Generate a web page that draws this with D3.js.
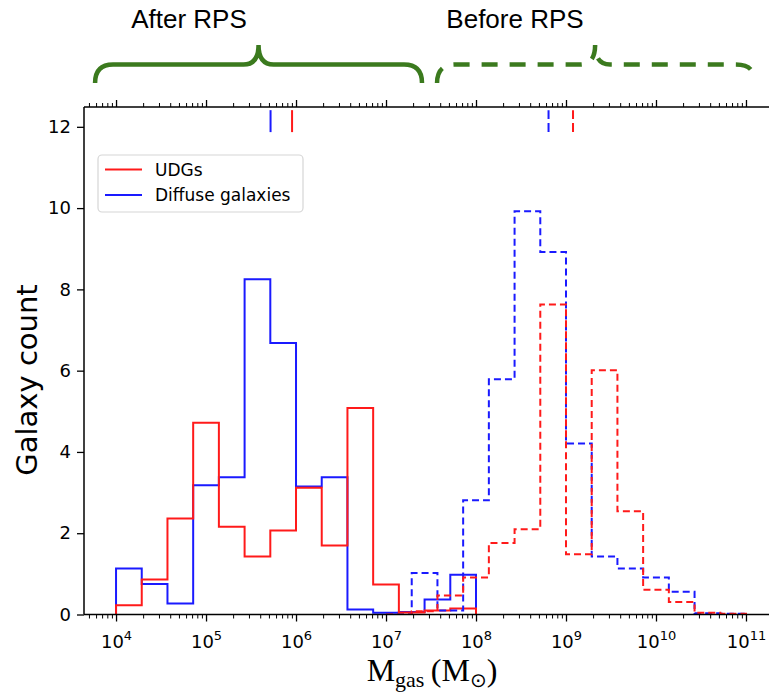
<!DOCTYPE html>
<html>
<head>
<meta charset="utf-8">
<script src="https://cdn.jsdelivr.net/npm/d3@7"></script>
<style>
  html, body { margin: 0; padding: 0; background: #fff; }
  svg { display: block; }
</style>
</head>
<body>
<svg id="chart" width="769" height="693"></svg>
<script>
// Histogram bins in log10(M_gas): 14 equal bins over 10^4–10^8 (after RPS)
// and over 10^7–10^11 (before RPS).
const afterBinStart = 4, afterBinEnd = 8;
const beforeBinStart = 7, beforeBinEnd = 11;
const binCount = 14;

// Galaxy counts per bin
const udgAfter      = [0.23, 0.86, 2.36, 4.72, 2.16, 1.43, 2.07, 3.12, 1.70, 5.08, 0.74, 0.05, 0.10, 0.15];
const diffuseAfter  = [1.13, 0.75, 0.27, 3.18, 3.38, 8.25, 6.68, 3.15, 3.38, 0.12, 0.04, 0.06, 0.37, 0.98];
const udgBefore     = [0.00, 0.08, 0.47, 0.91, 1.76, 2.10, 7.63, 1.48, 6.01, 2.54, 0.61, 0.31, 0.04, 0.02];
const diffuseBefore = [0.00, 1.02, 0.10, 2.81, 5.79, 9.92, 8.92, 4.21, 1.43, 1.13, 0.91, 0.56, 0.03, 0.02];

// Median log10(M_gas) of each population
const medianAfter  = { udg: 5.956, diffuse: 5.717 };
const medianBefore = { udg: 9.078, diffuse: 8.806 };

// Axis ticks
const xMajorExps = [4, 5, 6, 7, 8, 9, 10, 11];
const yTicks = [0, 2, 4, 6, 8, 10, 12];

// Legend entries
const legendLabels = ["UDGs", "Diffuse galaxies"];

// Bracket annotations (spans in log10 M_gas)
const brackets = [
  { label: "After RPS",  from: 3.767, to: 7.400, dashed: false },
  { label: "Before RPS", from: 7.567, to: 11.08, dashed: true }
];

const RED = "#ff1a1a", BLUE = "#1a1aff", GREEN = "#3b7a1e";

const svg = d3.select("#chart");
const axLeft = 84, axRight = 780, axTop = 107, axBottom = 614.5;

const x = d3.scaleLog().domain([Math.pow(10, 3.644), Math.pow(10, 11.378)]).range([axLeft, axRight]);
const y = d3.scaleLinear().domain([0, 12.5]).range([axBottom, axTop - 0.5]);

const edges = (a, b) => d3.range(binCount + 1).map(k => a + k * (b - a) / binCount);
const afterEdges = edges(afterBinStart, afterBinEnd);
const beforeEdges = edges(beforeBinStart, beforeBinEnd);

const plot = svg.append("g");
plot.append("defs").append("clipPath").attr("id", "clip")
  .append("rect").attr("x", axLeft).attr("y", axTop).attr("width", axRight - axLeft).attr("height", axBottom - axTop);

// Step outline of a histogram
function stepPoints(logEdges, counts) {
  const pts = [[logEdges[0], 0]];
  counts.forEach((c, i) => { pts.push([logEdges[i], c]); pts.push([logEdges[i + 1], c]); });
  pts.push([logEdges[logEdges.length - 1], 0]);
  return pts;
}
const line = d3.line().x(d => x(Math.pow(10, d[0]))).y(d => y(d[1]));

const hists = [
  { e: afterEdges,  c: diffuseAfter,  color: BLUE, dash: null },
  { e: afterEdges,  c: udgAfter,      color: RED,  dash: null },
  { e: beforeEdges, c: diffuseBefore, color: BLUE, dash: "7,4" },
  { e: beforeEdges, c: udgBefore,     color: RED,  dash: "7,4" }
];
const histG = plot.append("g").attr("clip-path", "url(#clip)");
hists.forEach(h => {
  histG.append("path")
    .attr("d", line(stepPoints(h.e, h.c)))
    .attr("fill", "none")
    .attr("stroke", h.color)
    .attr("stroke-width", 2)
    .attr("stroke-dasharray", h.dash);
});

// Median markers near the top of the axes
const markerY = [11.87, 12.41];
const markers = [
  { v: medianAfter.diffuse,  color: BLUE, dash: null },
  { v: medianAfter.udg,      color: RED,  dash: null },
  { v: medianBefore.diffuse, color: BLUE, dash: "9,4" },
  { v: medianBefore.udg,     color: RED,  dash: "9,4" }
];
markers.forEach(m => {
  plot.append("line")
    .attr("x1", x(Math.pow(10, m.v))).attr("x2", x(Math.pow(10, m.v)))
    .attr("y1", y(markerY[0])).attr("y2", y(markerY[1]))
    .attr("stroke", m.color).attr("stroke-width", 2)
    .attr("stroke-dasharray", m.dash);
});

// Axes
const [d0, d1] = x.domain();
const majors = xMajorExps.map(e => Math.pow(10, e));
const minors = [];
for (let e = 3; e <= 11; e++) for (let m = 2; m <= 9; m++) {
  const v = m * Math.pow(10, e);
  if (v >= d0 && v <= d1) minors.push(v);
}

function styleAxis(g) {
  g.select(".domain").remove();
  g.selectAll(".tick line").attr("stroke", "#000").attr("stroke-width", 1.3);
  g.selectAll("text").attr("font-family", "DejaVu Sans").attr("font-size", 18).attr("fill", "#000");
}

// bottom
const gxMinor = svg.append("g").attr("transform", `translate(0,${axBottom})`)
  .call(d3.axisBottom(x).tickValues(minors).tickSize(4).tickFormat(""));
styleAxis(gxMinor);
gxMinor.selectAll(".tick line").attr("stroke-width", 1);
const gx = svg.append("g").attr("transform", `translate(0,${axBottom})`)
  .call(d3.axisBottom(x).tickValues(majors).tickSize(7).tickFormat(""));
styleAxis(gx);
gx.selectAll(".tick").each(function(d) {
  const t = d3.select(this).append("text")
    .attr("y", 33).attr("text-anchor", "middle")
    .attr("font-family", "DejaVu Sans").attr("fill", "#000");
  t.append("tspan").attr("font-size", 18).text("10");
  t.append("tspan").attr("font-size", 13).attr("dy", -8).text(String(Math.round(Math.log10(d))));
});

// top (mirrored ticks, no labels)
const gtMinor = svg.append("g").attr("transform", `translate(0,${axTop})`)
  .call(d3.axisTop(x).tickValues(minors).tickSize(4).tickFormat(""));
styleAxis(gtMinor);
gtMinor.selectAll(".tick line").attr("stroke-width", 1);
const gt = svg.append("g").attr("transform", `translate(0,${axTop})`)
  .call(d3.axisTop(x).tickValues(majors).tickSize(7).tickFormat(""));
styleAxis(gt);

// left
const gy = svg.append("g").attr("transform", `translate(${axLeft},0)`)
  .call(d3.axisLeft(y).tickValues(yTicks).tickSize(7).tickPadding(6).tickFormat(d3.format("d")));
styleAxis(gy);

// spines
const spine = (x1, y1, x2, y2) => svg.append("line")
  .attr("x1", x1).attr("y1", y1).attr("x2", x2).attr("y2", y2)
  .attr("stroke", "#000").attr("stroke-width", 1.5);
spine(axLeft, axBottom, axRight, axBottom);
spine(axLeft, axTop, axRight, axTop);
spine(axLeft, axTop, axLeft, axBottom);
spine(axRight, axTop, axRight, axBottom);

// Axis labels
svg.append("text")
  .attr("transform", `translate(37,380) rotate(-90)`)
  .attr("text-anchor", "middle")
  .attr("font-family", "DejaVu Sans").attr("font-size", 29).attr("fill", "#000")
  .text("Galaxy count");

const xl = svg.append("text")
  .attr("x", 432).attr("y", 681).attr("text-anchor", "middle")
  .attr("font-family", "Liberation Serif, serif").attr("font-size", 32).attr("fill", "#000");
xl.append("tspan").text("M");
xl.append("tspan").attr("font-size", 22).attr("dy", 6).text("gas");
xl.append("tspan").attr("dy", -6).text("\u2009(M");
xl.append("tspan").attr("font-size", 20).attr("dy", 6).attr("font-family", "DejaVu Sans").text("\u2299");
xl.append("tspan").attr("dy", -6).text(")");

// Legend
const lg = svg.append("g");
lg.append("rect").attr("x", 98).attr("y", 155).attr("width", 205).attr("height", 57)
  .attr("rx", 4).attr("fill", "#fff").attr("fill-opacity", 0.85)
  .attr("stroke", "#d6d6d6").attr("stroke-width", 1.2);
[RED, BLUE].forEach((c, i) => {
  const yy = 169.5 + i * 25.5;
  lg.append("line").attr("x1", 105).attr("x2", 142).attr("y1", yy).attr("y2", yy)
    .attr("stroke", c).attr("stroke-width", 2);
  lg.append("text").attr("x", 155).attr("y", yy + 6)
    .attr("font-family", "DejaVu Sans").attr("font-size", 17).attr("fill", "#000")
    .text(legendLabels[i]);
});

// Curly brackets with labels
const yEnd = 83, yBar = 64.5, yPeak = 45, r = 18, rp = 15;
brackets.forEach(b => {
  const x0 = x(Math.pow(10, b.from)), x1 = x(Math.pow(10, b.to));
  const xm = (x0 + x1) / 2;
  const yEndR = b.dashed ? 77 : yEnd;
  const p = d3.path();
  p.moveTo(x0, yEnd);
  p.quadraticCurveTo(x0, yBar, x0 + r, yBar);
  p.lineTo(xm - rp, yBar);
  p.quadraticCurveTo(xm, yBar, xm, yPeak);
  p.quadraticCurveTo(xm, yBar, xm + rp, yBar);
  p.lineTo(x1 - r, yBar);
  p.quadraticCurveTo(x1, yBar, x1, yEndR);
  svg.append("path").attr("d", p.toString())
    .attr("fill", "none").attr("stroke", GREEN).attr("stroke-width", 4.5)
    .attr("stroke-dasharray", b.dashed ? "16,12" : null);
  svg.append("text").attr("x", b.dashed ? 515 : 189).attr("y", 28)
    .attr("text-anchor", "middle")
    .attr("font-family", "Liberation Sans, Arial, sans-serif").attr("font-size", 26).attr("fill", "#000")
    .text(b.label);
});
</script>
</body>
</html>
